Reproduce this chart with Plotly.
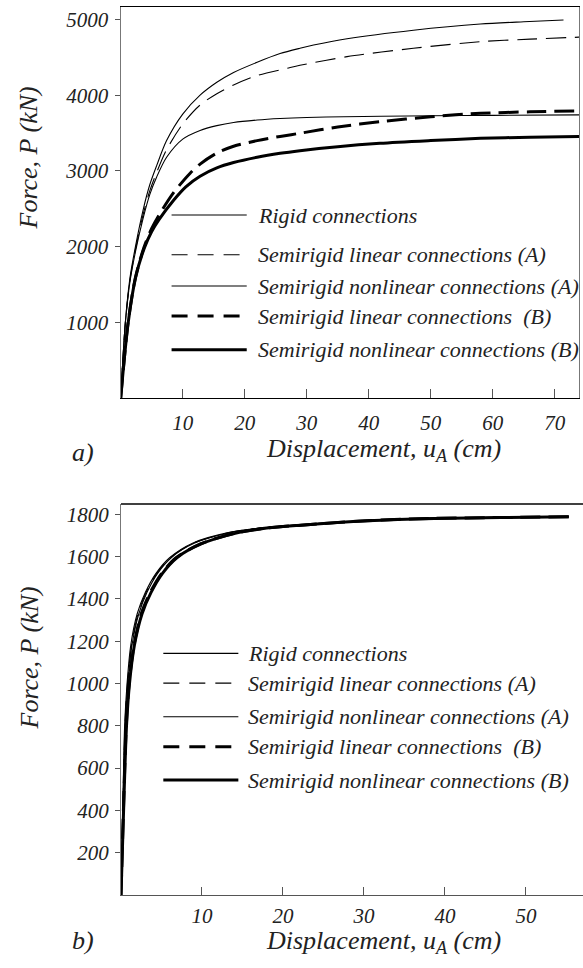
import plotly.graph_objects as go

# ---------------- panel a) : force-displacement, values read in (cm, kN)
a_rigid_x = [0, 0.75, 1.5, 2.4, 3.6, 4.7, 5.8, 7.4, 10, 12.8, 15.5, 18.2, 22, 25.7, 28.9, 31.1, 36.5, 47.2, 58, 65, 71.4]
a_rigid_p = [0, 1000, 1590, 2010, 2480, 2820, 3070, 3400, 3750, 4000, 4170, 4300, 4435, 4550, 4620, 4662, 4745, 4858, 4940, 4970, 4993]

a_linA_x = [0, 0.75, 1.5, 2.4, 3.6, 4.7, 5.8, 7.4, 10, 12.8, 15.5, 18.2, 22, 26.8, 28.9, 36.5, 47.2, 58, 66, 75]
a_linA_p = [0, 990, 1560, 1970, 2420, 2740, 2980, 3280, 3620, 3870, 4020, 4135, 4260, 4355, 4395, 4509, 4620, 4707, 4740, 4770]

a_nonA_x = [0, 0.75, 1.5, 2.4, 3.6, 4.7, 5.8, 7.4, 10, 12.8, 15.5, 18.2, 22, 25.7, 30, 36, 42, 50, 60, 75]
a_nonA_p = [0, 990, 1540, 1940, 2370, 2690, 2920, 3180, 3420, 3535, 3598, 3640, 3672, 3692, 3706, 3716, 3722, 3728, 3733, 3740]

a_linB_x = [0, 1.2, 2.4, 3.8, 5.0, 6.2, 8.5, 11.2, 12.8, 15.5, 18.2, 22, 25.7, 28.9, 35, 41.8, 50, 58, 66, 75]
a_linB_p = [0, 1000, 1600, 2000, 2240, 2420, 2710, 2970, 3090, 3235, 3325, 3400, 3455, 3497, 3580, 3650, 3715, 3761, 3780, 3795]

a_nonB_x = [0, 1.2, 2.4, 3.8, 5.0, 6.2, 8.5, 10.5, 12.8, 15.5, 18.2, 22, 25.7, 28.9, 35, 41.8, 50, 58, 66, 75]
a_nonB_p = [0, 990, 1590, 1980, 2200, 2360, 2610, 2790, 2930, 3040, 3110, 3180, 3232, 3267, 3320, 3364, 3400, 3430, 3445, 3455]

# ---------------- panel b)
b_rigid_x = [0, 0.22, 0.45, 0.75, 1.2, 2.0, 3.0, 4.3, 6.0, 8.9, 13.4, 18, 22.2, 30.4, 38.7, 46.9, 55.3]
b_rigid_p = [0, 400, 800, 1000, 1180, 1330, 1430, 1520, 1595, 1665, 1715, 1738, 1751, 1771, 1782, 1786, 1790]

b_linA_x = [0, 0.24, 0.48, 0.8, 1.3, 2.1, 3.1, 4.4, 6.1, 9.0, 13.5, 18, 22.2, 30.4, 38.7, 46.9, 55.3]
b_linA_p = [0, 400, 800, 1000, 1180, 1330, 1430, 1520, 1595, 1665, 1715, 1738, 1751, 1771, 1782, 1786, 1790]

b_nonA_x = [0, 0.26, 0.52, 0.85, 1.35, 2.2, 3.2, 4.5, 6.2, 9.1, 13.6, 18, 22.2, 30.4, 38.7, 46.9, 55.3]
b_nonA_p = [0, 400, 800, 1000, 1180, 1330, 1430, 1520, 1595, 1664, 1714, 1737, 1750, 1770, 1781, 1786, 1789]

b_linB_x = [0, 0.3, 0.65, 1.0, 1.6, 2.5, 3.6, 5.0, 6.8, 9.8, 14, 18, 22.2, 30.4, 38.7, 46.9, 55.3]
b_linB_p = [0, 400, 800, 1000, 1180, 1330, 1430, 1520, 1595, 1660, 1710, 1735, 1749, 1770, 1781, 1785, 1789]

b_nonB_x = [0, 0.32, 0.68, 1.05, 1.65, 2.6, 3.7, 5.1, 6.9, 9.9, 14.1, 18, 22.2, 30.4, 38.7, 46.9, 55.3]
b_nonB_p = [0, 400, 800, 1000, 1180, 1330, 1430, 1520, 1595, 1660, 1710, 1735, 1749, 1770, 1781, 1785, 1789]

series_names = [
    "Rigid connections",
    "Semirigid linear connections (A)",
    "Semirigid nonlinear connections (A)",
    "Semirigid linear connections\u00a0 (B)",
    "Semirigid nonlinear connections (B)",
]

a_xticks = [10, 20, 30, 40, 50, 60, 70]
a_yticks = [1000, 2000, 3000, 4000, 5000]
b_xticks = [10, 20, 30, 40, 50]
b_yticks = [200, 400, 600, 800, 1000, 1200, 1400, 1600, 1800]

# line styles per series: (width, dash)
styles = [
    (1.1, "solid"),
    (1.1, "20px,9px"),
    (1.1, "solid"),
    (3.0, "20px,8px"),
    (3.0, "solid"),
]
legend_dash = ["solid", "16px,10px", "solid", "16px,10px", "solid"]

SERIF = "Liberation Serif"
INK = "#222222"
W, H = 583, 968


def it(s):
    return "<i>" + str(s) + "</i>"


fig = go.Figure()

a_data = [(a_rigid_x, a_rigid_p), (a_linA_x, a_linA_p), (a_nonA_x, a_nonA_p),
          (a_linB_x, a_linB_p), (a_nonB_x, a_nonB_p)]
b_data = [(b_rigid_x, b_rigid_p), (b_linA_x, b_linA_p), (b_nonA_x, b_nonA_p),
          (b_linB_x, b_linB_p), (b_nonB_x, b_nonB_p)]

for (xs, ps), name, (w, d) in zip(a_data, series_names, styles):
    fig.add_trace(go.Scatter(x=xs, y=ps, mode="lines", name=name, showlegend=False,
                             line=dict(color="black", width=w, dash=d, shape="spline", smoothing=0.8),
                             xaxis="x", yaxis="y"))
for (xs, ps), name, (w, d) in zip(b_data, series_names, styles):
    fig.add_trace(go.Scatter(x=xs, y=ps, mode="lines", name=name, showlegend=False,
                             line=dict(color="black", width=w, dash=d, shape="spline", smoothing=0.8),
                             xaxis="x2", yaxis="y2"))

tickfont = dict(family=SERIF, size=21, color=INK)

a_xdom = [120.7 / W, 579 / W]
a_ydom = [1 - 398 / H, 1 - 7 / H]
b_xdom = [121 / W, 1.0]
b_ydom = [1 - 895 / H, 1 - 504 / H]
a_xr = [0, 73.9]
a_yr = [0, 5165]
b_xr = [0, 57.05]
b_yr = [0, 1849]

common = dict(showgrid=False, zeroline=False, tickcolor="#555555", tickwidth=1.2)

fig.update_layout(
    width=W, height=H,
    margin=dict(l=0, r=0, t=0, b=0),
    paper_bgcolor="white", plot_bgcolor="white",
    showlegend=False,
    font=dict(family=SERIF, color=INK),
    # panel a)
    xaxis=dict(domain=a_xdom, range=a_xr, anchor="y", tickvals=a_xticks,
               ticktext=[it(v) for v in a_xticks], ticks="inside", ticklen=9,
               showline=True, linecolor="black", linewidth=1.3, mirror=True,
               tickfont=tickfont, ticklabelstandoff=6, **common),
    yaxis=dict(domain=a_ydom, range=a_yr, anchor="x", tickvals=a_yticks,
               ticktext=[it(v) for v in a_yticks], ticks="outside", ticklen=5,
               showline=True, linecolor="#777777", linewidth=1.3, mirror=True,
               tickfont=tickfont, ticklabelstandoff=2, **common),
    xaxis3=dict(overlaying="x", range=a_xr, anchor="y", tickvals=a_xticks, ticks="outside", ticklen=5,
                showticklabels=False, showline=False, **common),
    yaxis3=dict(overlaying="y", range=a_yr, anchor="x", tickvals=a_yticks, ticks="inside", ticklen=4,
                showticklabels=False, showline=False, **common),
    # panel b)
    xaxis2=dict(domain=b_xdom, range=b_xr, anchor="y2", tickvals=b_xticks,
                ticktext=[it(v) for v in b_xticks], ticks="inside", ticklen=8,
                showline=True, linecolor="#555555", linewidth=1.3, mirror=False,
                tickfont=tickfont, ticklabelstandoff=2, **common),
    yaxis2=dict(domain=b_ydom, range=b_yr, anchor="x2", tickvals=b_yticks,
                ticktext=[it(v) for v in b_yticks], ticks="outside", ticklen=5,
                showline=True, linecolor="#777777", linewidth=1.3, mirror=False,
                tickfont=tickfont, ticklabelstandoff=2, **common),
    xaxis4=dict(overlaying="x2", range=b_xr, anchor="y2", tickvals=b_xticks, ticks="outside", ticklen=8,
                showticklabels=False, showline=False, **common),
    yaxis4=dict(overlaying="y2", range=b_yr, anchor="x2", tickvals=b_yticks, ticks="inside", ticklen=4,
                showticklabels=False, showline=False, **common),
)

# top border of panel b)
fig.add_shape(type="line", xref="x2 domain", yref="y2 domain", x0=0, x1=1, y0=1, y1=1,
              line=dict(color="black", width=1.3))

# legend keys and labels drawn inside each panel
def add_legend(xref, yref, x0, x1, xt, rows):
    for i, name in enumerate(series_names):
        w, _ = styles[i]
        fig.add_shape(type="line", xref=xref, yref=yref, x0=x0, x1=x1, y0=rows[i], y1=rows[i],
                      line=dict(color="black", width=w, dash=legend_dash[i]))
        fig.add_annotation(text=it(name), xref=xref, yref=yref, x=xt, y=rows[i],
                           xanchor="left", yanchor="middle", showarrow=False,
                           font=dict(family=SERIF, size=22, color=INK))

add_legend("x domain", "y domain", 0.111, 0.275, 0.295,
           [0.468, 0.3665, 0.2864, 0.2097, 0.1235])
add_legend("x2 domain", "y2 domain", 0.0916, 0.254, 0.271,
           [0.618, 0.542, 0.456, 0.379, 0.294])

title_font = dict(family=SERIF, size=26, color=INK)
xtitle = "<i>Displacement, u</i><sub><i>A</i></sub><i> (cm)</i>"
for yc in (450, 942):
    fig.add_annotation(text=xtitle, xref="paper", yref="paper", x=383 / W, y=1 - yc / H,
                       xanchor="center", yanchor="middle", showarrow=False, font=title_font)
for yc in (158, 658):
    fig.add_annotation(text=it("Force, P (kN)"), xref="paper", yref="paper", x=28.5 / W, y=1 - yc / H,
                       xanchor="center", yanchor="middle", showarrow=False, textangle=-90,
                       font=title_font)
for lab, yc in (("a)", 452), ("b)", 940)):
    fig.add_annotation(text=it(lab), xref="paper", yref="paper", x=70 / W, y=1 - yc / H,
                       xanchor="left", yanchor="middle", showarrow=False, font=title_font)

fig.write_html("out.html")
